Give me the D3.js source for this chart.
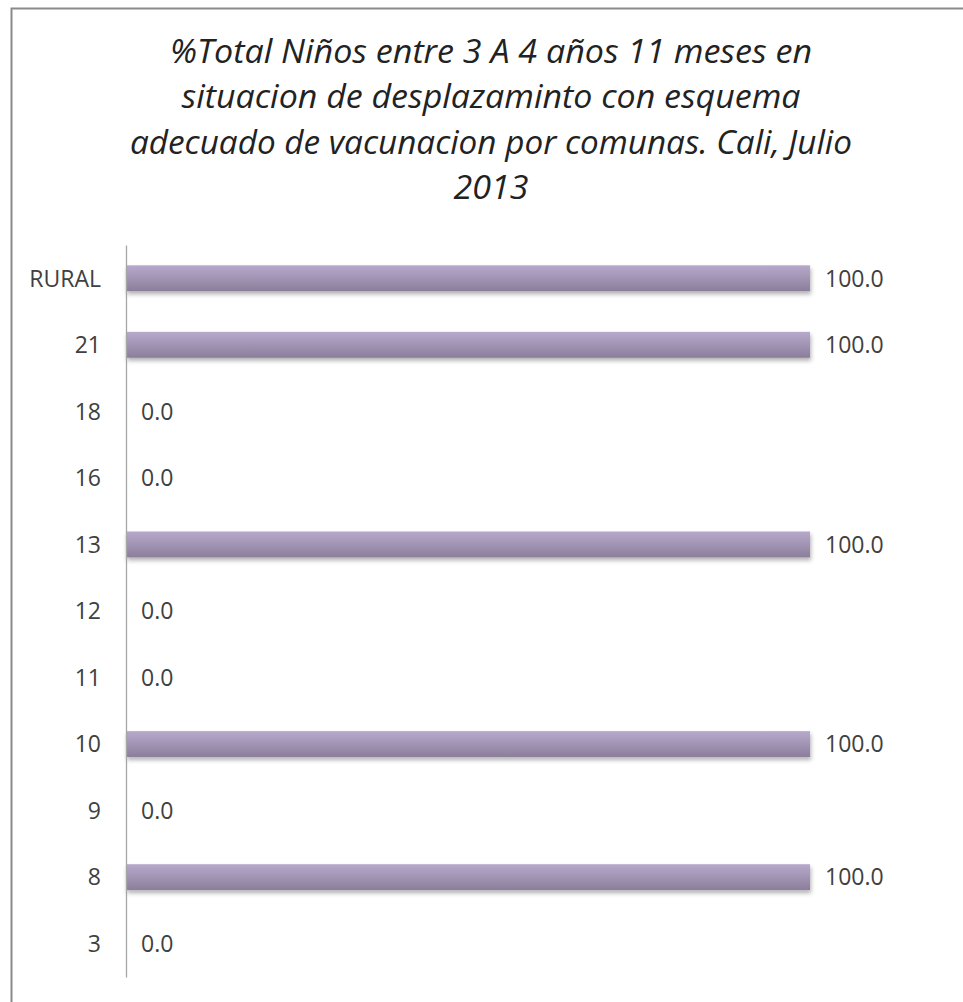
<!DOCTYPE html>
<html>
<head>
<meta charset="utf-8">
<script src="https://cdn.jsdelivr.net/npm/d3@7"></script>
<style>
  body { margin: 0; background: #fff; }
  #app text { font-family: "Open Sans", sans-serif; fill: #404040; }
</style>
</head>
<body>
<div id="app"></div>
<script>
// data
var comunas = ["RURAL", "21", "18", "16", "13", "12", "11", "10", "9", "8", "3"];
var porcentaje = [100, 100, 0, 0, 100, 0, 0, 100, 0, 100, 0];
var tituloLineas = [
  "%Total Niños entre 3 A 4 años 11 meses en",
  "situacion de desplazaminto con esquema",
  "adecuado de vacunacion por comunas. Cali, Julio",
  "2013"
];

var w = 963;
var h = 1002;

const svg = d3.select("#app")
  .append("svg")
  .attr("width", w)
  .attr("height", h)

const defs = svg.append("defs")

const grad = defs.append("linearGradient")
  .attr("id", "barGrad")
  .attr("x1", 0).attr("y1", 0)
  .attr("x2", 0).attr("y2", 1)
grad.append("stop").attr("offset", "0%").attr("stop-color", "#b7a9cb")
grad.append("stop").attr("offset", "100%").attr("stop-color", "#8b7e9b")

const shadow = defs.append("filter")
  .attr("id", "sombra")
  .attr("x", "-5%").attr("y", "-30%")
  .attr("width", "110%").attr("height", "180%")
shadow.append("feDropShadow")
  .attr("dx", 1).attr("dy", 3)
  .attr("stdDeviation", 2)
  .attr("flood-color", "#000")
  .attr("flood-opacity", 0.3)

// outer frame of the chart area
svg.append("path")
  .attr("d", "M11.5," + h + " V8.5 H" + w)
  .attr("fill", "none")
  .attr("stroke", "#8a8a8a")
  .attr("stroke-width", 2)

// title
const titulo = svg.append("text")
  .attr("text-anchor", "middle")
  .style("font-style", "italic")
  .style("font-size", "32px")
  .style("fill", "#222")
const anchos = [642, 619, 722, 75];
tituloLineas.forEach((t, i) => {
  titulo.append("tspan")
    .attr("x", 491)
    .attr("y", 63 + i * 45.3)
    .attr("textLength", anchos[i])
    .attr("lengthAdjust", "spacingAndGlyphs")
    .text(t)
})

const xScale = d3.scaleLinear()
  .domain([0, 100])
  .range([126, 810])

const yScale = d3.scaleBand()
  .domain(comunas)
  .range([245, 977])
  .paddingInner(0.61)
  .paddingOuter(0.305)

const datos = comunas.map((c, i) => ({ comuna: c, valor: porcentaje[i] }))

svg.selectAll(".bar")
  .data(datos.filter(d => d.valor > 0))
  .enter()
  .append("rect")
  .attr("class", "bar")
  .attr("x", xScale(0))
  .attr("y", d => yScale(d.comuna))
  .attr("width", d => xScale(d.valor) - xScale(0))
  .attr("height", yScale.bandwidth())
  .attr("fill", "url(#barGrad)")
  .attr("filter", "url(#sombra)")

// vertical axis, no ticks
const yAxis = d3.axisLeft(yScale).tickSize(0).tickPadding(25)
const gy = svg.append("g")
  .attr("transform", "translate(" + xScale(0) + ",0)")
  .call(yAxis)
gy.select(".domain").attr("stroke", "#a6a6a6").attr("stroke-width", 1.3)
gy.selectAll(".tick text")
  .style("font-size", "23px")
  .attr("dy", "0.36em")

// value labels
svg.selectAll(".valor")
  .data(datos)
  .enter()
  .append("text")
  .attr("class", "valor")
  .attr("x", d => xScale(d.valor) + 15)
  .attr("y", d => yScale(d.comuna) + yScale.bandwidth() / 2)
  .attr("dy", "0.36em")
  .style("font-size", "23px")
  .text(d => d.valor.toFixed(1))
</script>
</body>
</html>
